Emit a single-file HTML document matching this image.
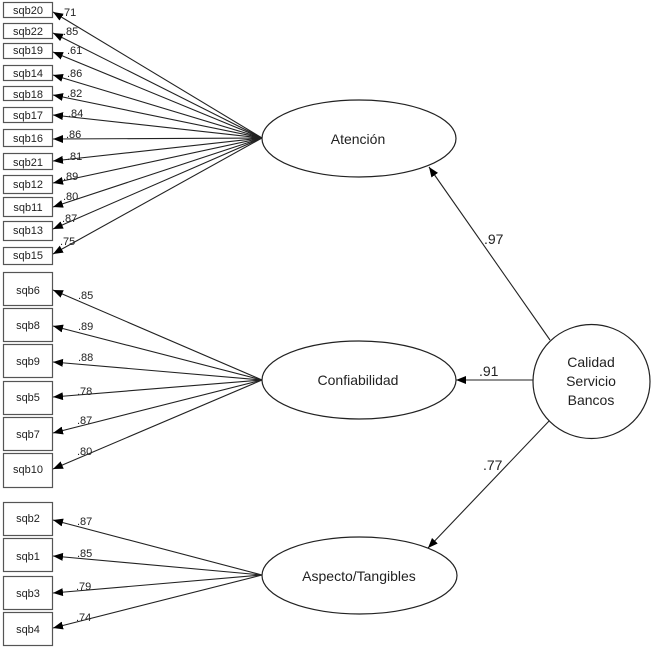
<!DOCTYPE html>
<html><head><meta charset="utf-8"><style>
html,body{margin:0;padding:0;background:#fff}
svg{display:block}
text{font-family:"Liberation Sans",sans-serif;fill:#222}
.b{font-size:11px;text-anchor:middle}
.l{font-size:11px}
.m{font-size:14px;text-anchor:middle}
.v{font-size:14px}
rect{fill:#fff;stroke:#555;stroke-width:1.2}
ellipse{fill:#fff;stroke:#222;stroke-width:1.2}
line{stroke:#222;stroke-width:1.1}
.root{filter:blur(0.35px)}
</style></head><body>
<svg width="654" height="650" viewBox="0 0 654 650" xmlns="http://www.w3.org/2000/svg">
<defs>
<marker id="a" markerUnits="userSpaceOnUse" markerWidth="12" markerHeight="10" refX="10" refY="4" orient="auto"><polygon points="0,0 10,4 0,8" fill="#000"/></marker>
</defs>
<g class="root">
<g marker-end="url(#a)">
<line x1="262" y1="138" x2="53" y2="12" marker-end="url(#a)"/><line x1="262" y1="138" x2="53" y2="33" marker-end="url(#a)"/><line x1="262" y1="138" x2="53" y2="52" marker-end="url(#a)"/><line x1="262" y1="138" x2="53" y2="75" marker-end="url(#a)"/><line x1="262" y1="138" x2="53" y2="95" marker-end="url(#a)"/><line x1="262" y1="138" x2="53" y2="115" marker-end="url(#a)"/><line x1="262" y1="138" x2="53" y2="139" marker-end="url(#a)"/><line x1="262" y1="138" x2="53" y2="161" marker-end="url(#a)"/><line x1="262" y1="138" x2="53" y2="183" marker-end="url(#a)"/><line x1="262" y1="138" x2="53" y2="207" marker-end="url(#a)"/><line x1="262" y1="138" x2="53" y2="229" marker-end="url(#a)"/><line x1="262" y1="138" x2="53" y2="254" marker-end="url(#a)"/>
<line x1="262" y1="380" x2="53" y2="290" marker-end="url(#a)"/><line x1="262" y1="380" x2="53" y2="326" marker-end="url(#a)"/><line x1="262" y1="380" x2="53" y2="362" marker-end="url(#a)"/><line x1="262" y1="380" x2="53" y2="397" marker-end="url(#a)"/><line x1="262" y1="380" x2="53" y2="433" marker-end="url(#a)"/><line x1="262" y1="380" x2="53" y2="469" marker-end="url(#a)"/>
<line x1="262" y1="575" x2="53" y2="520" marker-end="url(#a)"/><line x1="262" y1="575" x2="53" y2="556" marker-end="url(#a)"/><line x1="262" y1="575" x2="53" y2="593" marker-end="url(#a)"/><line x1="262" y1="575" x2="53" y2="628" marker-end="url(#a)"/>
<line x1="550" y1="340" x2="429" y2="167" marker-end="url(#a)"/><line x1="533" y1="380" x2="456" y2="380" marker-end="url(#a)"/><line x1="550" y1="420" x2="428" y2="548" marker-end="url(#a)"/>
</g>
<g>
<rect x="3.5" y="2.5" width="49" height="15"/><rect x="3.5" y="23.5" width="49" height="15"/><rect x="3.5" y="43.5" width="49" height="15"/><rect x="3.5" y="65.5" width="49" height="15"/><rect x="3.5" y="86.5" width="49" height="14"/><rect x="3.5" y="107.5" width="49" height="15"/><rect x="3.5" y="129.5" width="49" height="17"/><rect x="3.5" y="153.5" width="49" height="16"/><rect x="3.5" y="175.5" width="49" height="18"/><rect x="3.5" y="197.5" width="49" height="19"/><rect x="3.5" y="221.5" width="49" height="19"/><rect x="3.5" y="247.5" width="49" height="17"/>
<rect x="3.5" y="272.5" width="49" height="33"/><rect x="3.5" y="308.5" width="49" height="33"/><rect x="3.5" y="344.5" width="49" height="33"/><rect x="3.5" y="381.5" width="49" height="33"/><rect x="3.5" y="417.5" width="49" height="33"/><rect x="3.5" y="453.5" width="49" height="34"/>
<rect x="3.5" y="502.5" width="49" height="33"/><rect x="3.5" y="538.5" width="49" height="33"/><rect x="3.5" y="576.5" width="49" height="33"/><rect x="3.5" y="612.5" width="49" height="33"/>
</g>
<ellipse cx="359" cy="138.5" rx="97" ry="38.5"/>
<ellipse cx="359" cy="380" rx="97" ry="39"/>
<ellipse cx="359.5" cy="575.5" rx="97.5" ry="38.5"/>
<ellipse cx="591.5" cy="381.5" rx="58.5" ry="57"/>
<g>
<text class="b" x="28" y="14">sqb20</text><text class="b" x="28" y="35">sqb22</text><text class="b" x="28" y="54">sqb19</text><text class="b" x="28" y="77">sqb14</text><text class="b" x="28" y="98">sqb18</text><text class="b" x="28" y="119">sqb17</text><text class="b" x="28" y="142">sqb16</text><text class="b" x="28" y="166">sqb21</text><text class="b" x="28" y="188">sqb12</text><text class="b" x="28" y="211">sqb11</text><text class="b" x="28" y="234">sqb13</text><text class="b" x="28" y="259">sqb15</text>
<text class="b" x="28" y="294">sqb6</text><text class="b" x="28" y="329">sqb8</text><text class="b" x="28" y="365">sqb9</text><text class="b" x="28" y="401">sqb5</text><text class="b" x="28" y="438">sqb7</text><text class="b" x="28" y="473">sqb10</text>
<text class="b" x="28" y="522">sqb2</text><text class="b" x="28" y="560">sqb1</text><text class="b" x="28" y="597">sqb3</text><text class="b" x="28" y="633">sqb4</text>
</g>
<g>
<text class="l" x="61" y="16">.71</text><text class="l" x="63" y="35">.85</text><text class="l" x="67" y="54">.61</text><text class="l" x="67" y="77">.86</text><text class="l" x="67" y="97">.82</text><text class="l" x="68" y="117">.84</text><text class="l" x="66" y="138">.86</text><text class="l" x="67" y="160">.81</text><text class="l" x="63" y="180">.89</text><text class="l" x="63" y="200">.80</text><text class="l" x="62" y="222">.87</text><text class="l" x="60" y="245">.75</text>
<text class="l" x="78" y="299">.85</text><text class="l" x="78" y="330">.89</text><text class="l" x="78" y="361">.88</text><text class="l" x="77" y="395">.78</text><text class="l" x="77" y="424">.87</text><text class="l" x="77" y="455">.80</text>
<text class="l" x="77" y="525">.87</text><text class="l" x="77" y="557">.85</text><text class="l" x="76" y="590">.79</text><text class="l" x="76" y="621">.74</text>
</g>
<text class="m" x="358" y="144">Atención</text>
<text class="m" x="358" y="385">Confiabilidad</text>
<text class="m" x="359" y="581">Aspecto/Tangibles</text>
<text class="m" x="591" y="367">Calidad</text>
<text class="m" x="591" y="386">Servicio</text>
<text class="m" x="591" y="405">Bancos</text>
<text class="v" x="484" y="244">.97</text>
<text class="v" x="479" y="376">.91</text>
<text class="v" x="483" y="470">.77</text>
</g>
</svg>
</body></html>
